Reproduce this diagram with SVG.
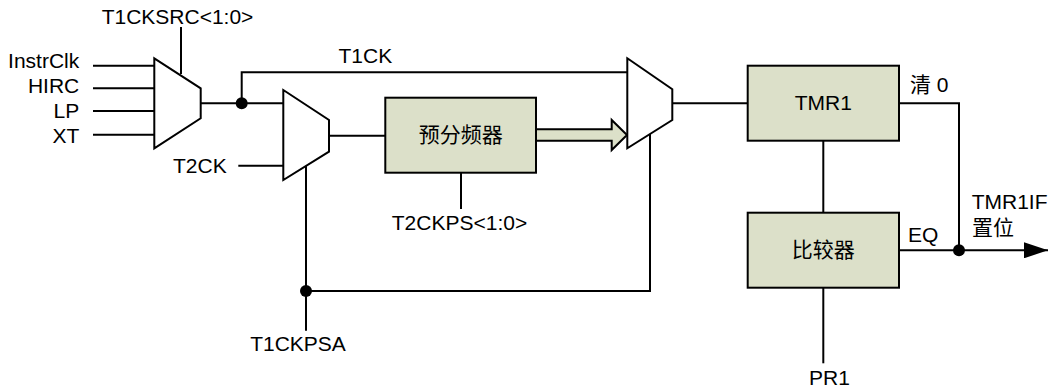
<svg xmlns="http://www.w3.org/2000/svg" width="1051" height="390" viewBox="0 0 1051 390">
<style>
text{font-family:"Liberation Sans","Noto Sans CJK SC",Arial,sans-serif;font-size:21px;fill:#000}
.w{fill:none;stroke:#000;stroke-width:2}
.mux{fill:#fff;stroke:#000;stroke-width:2}
.box{fill:#DCE0C9;stroke:#000;stroke-width:2}
.dot{fill:#000}
.m{text-anchor:middle}
.e{text-anchor:end}
</style>
<defs>
<marker id="ah" viewBox="0 0 24 16" refX="24" refY="8" markerWidth="24" markerHeight="16" markerUnits="userSpaceOnUse" orient="auto">
<path d="M0,0 L24,8 L0,16 Z" fill="#000"/>
</marker>
</defs>
<rect width="1051" height="390" fill="#fff"/>
<g id="connectors">
<path class="w" d="M93,65.7H154 M93,88.3H154 M93,111H154 M93,134.7H154"/>
<path class="w" d="M181,27V74"/>
<path class="w" d="M200.7,103.3H283.3"/>
<path class="w" d="M241.7,103.3V72.3H627.3"/>
<path class="w" d="M238.3,165.7H283.3"/>
<path class="w" d="M329,135.7H385.3"/>
<path class="w" d="M461,172.7V209"/>
<path class="w" d="M306,166V330.7"/>
<path class="w" d="M306,291H650V131"/>
<path class="w" d="M672.3,103.3H747.7"/>
<path class="w" d="M823.3,140.7V212.7"/>
<path class="w" d="M823.3,287.7V363.3"/>
<path class="w" d="M899,103.3H959V250.3"/>
<path class="w" d="M899,250.3H1048" marker-end="url(#ah)"/>
<path d="M536,129.3H611.7V120L627,135L611.7,150V140.7H536Z" fill="#DCE0C9" stroke="#000" stroke-width="2"/>
<circle class="dot" cx="241.7" cy="103.3" r="6"/>
<circle class="dot" cx="306" cy="291" r="6"/>
<circle class="dot" cx="959" cy="250.3" r="6"/>
</g>
<g id="mux1"><polygon class="mux" points="154.3,58.3 200.7,88.3 200.7,118.3 154.3,148.3"/></g>
<g id="mux2"><polygon class="mux" points="283.3,90 329,120 329,151.7 283.3,180"/></g>
<g id="mux3"><polygon class="mux" points="627.3,58.3 672.3,89.3 672.3,120 627.3,148.3"/></g>
<g id="prescaler"><rect class="box" x="385.3" y="97.7" width="150.7" height="75"/><text class="m" x="460.7" y="142">预分频器</text></g>
<g id="tmr1"><rect class="box" x="747.7" y="65.7" width="151.3" height="75"/><text class="m" x="823.3" y="110">TMR1</text></g>
<g id="comparator"><rect class="box" x="747.7" y="212.7" width="151.3" height="75"/><text class="m" x="823.3" y="257">比较器</text></g>
<g id="labels">
<text class="m" x="177.5" y="24">T1CKSRC&lt;1:0&gt;</text>
<text class="e" x="79.3" y="68">InstrClk</text>
<text class="e" x="79.3" y="93">HIRC</text>
<text class="e" x="79.3" y="118">LP</text>
<text class="e" x="79.3" y="143">XT</text>
<text class="e" x="226.7" y="173">T2CK</text>
<text class="m" x="365.3" y="63">T1CK</text>
<text class="m" x="459.5" y="230">T2CKPS&lt;1:0&gt;</text>
<text class="m" x="298" y="350.5">T1CKPSA</text>
<text x="910" y="92">清 0</text>
<text x="971.7" y="209">TMR1IF</text>
<text x="972" y="235">置位</text>
<text x="908" y="242">EQ</text>
<text class="m" x="829.5" y="385">PR1</text>
</g>
</svg>
